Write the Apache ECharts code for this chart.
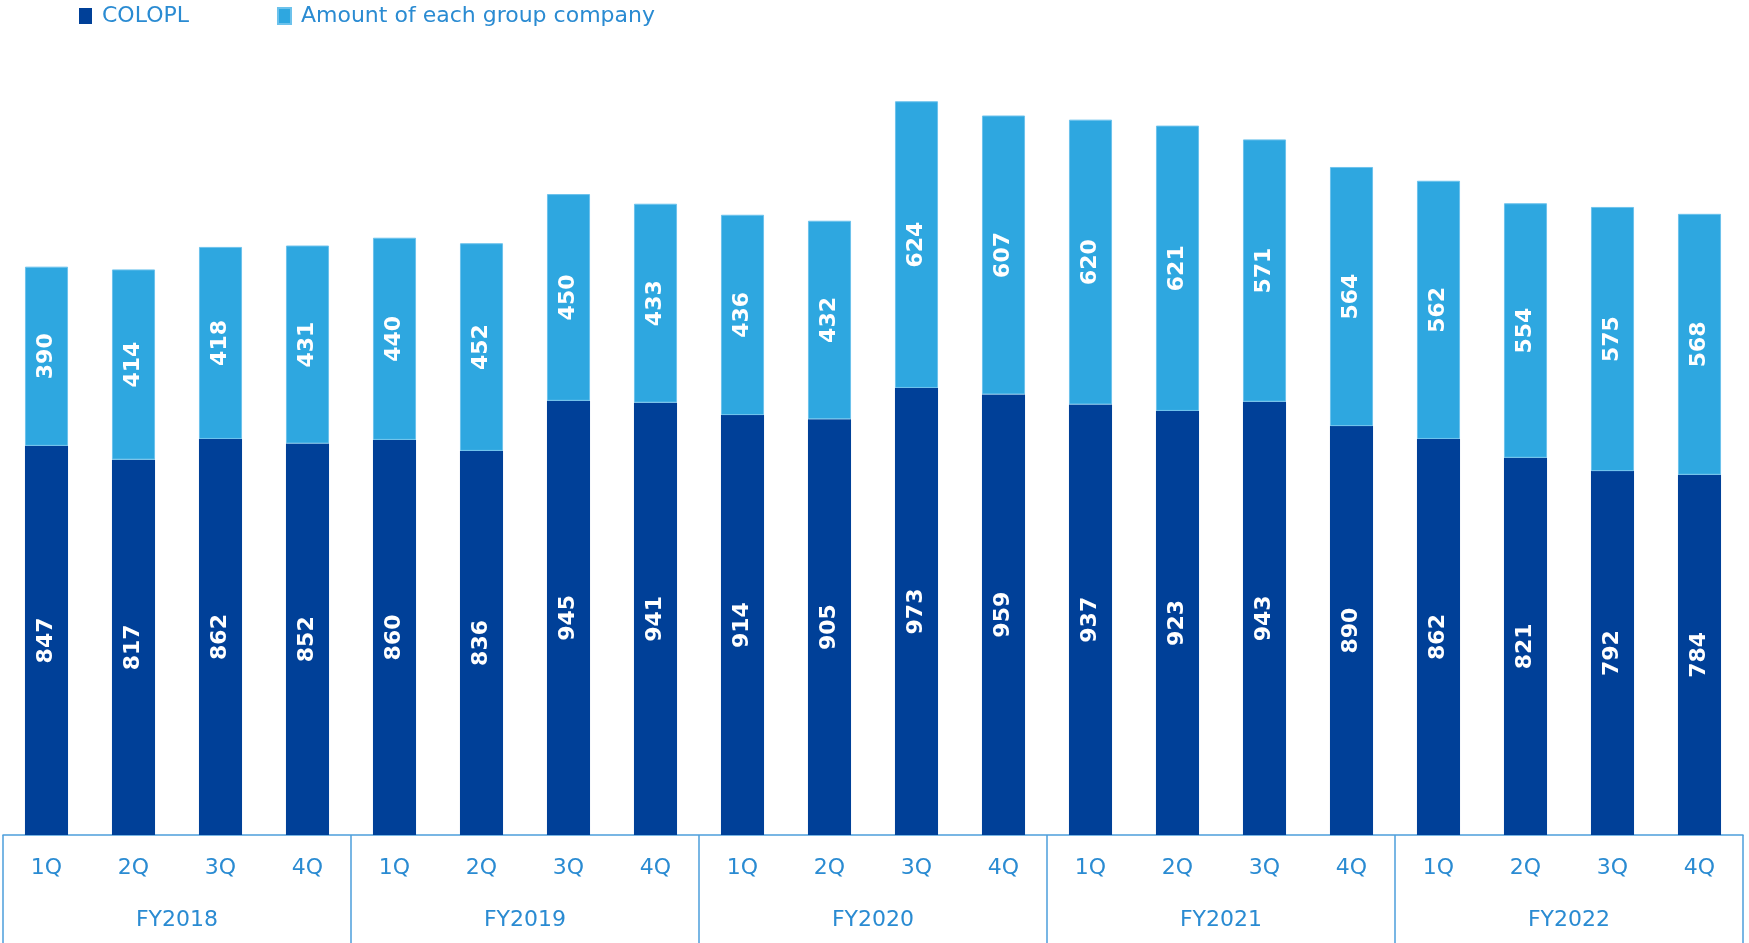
<!DOCTYPE html>
<html>
<head>
<meta charset="utf-8">
<title>COLOPL quarterly amounts</title>
<script src="https://cdn.jsdelivr.net/npm/echarts@6/dist/echarts.min.js"></script>
<style>
  html, body { margin: 0; padding: 0; background: #ffffff; }
  #chart { width: 1749px; height: 943px; }
</style>
</head>
<body>
<div id="chart"></div>
<script>
// Quarter labels (inner axis row) and fiscal years (outer axis row)
const quarters = [
  '1Q', '2Q', '3Q', '4Q',
  '1Q', '2Q', '3Q', '4Q',
  '1Q', '2Q', '3Q', '4Q',
  '1Q', '2Q', '3Q', '4Q',
  '1Q', '2Q', '3Q', '4Q'
];
const fiscalYears = ['FY2018', 'FY2019', 'FY2020', 'FY2021', 'FY2022'];

// COLOPL (non-consolidated) per quarter
const colopl = [
  847, 817, 862, 852,
  860, 836, 945, 941,
  914, 905, 973, 959,
  937, 923, 943, 890,
  862, 821, 792, 784
];

// Amount of each group company per quarter
const groupCompanies = [
  390, 414, 418, 431,
  440, 452, 450, 433,
  436, 432, 624, 607,
  620, 621, 571, 564,
  562, 554, 575, 568
];

const DARK = '#004098';
const LIGHT = '#2ea7e0';
const AXIS_BLUE = '#4c9fdb';
const TEXT_BLUE = '#2a8bd2';
const FONT = '"DejaVu Sans", Verdana, sans-serif';

const chart = echarts.init(document.getElementById('chart'), null, { renderer: 'canvas' });

const valueLabel = {
  show: true,
  position: 'inside',
  rotate: 90,
  color: '#ffffff',
  fontFamily: FONT,
  fontWeight: 'bold',
  fontSize: 22
};

chart.setOption({
  animation: false,
  backgroundColor: '#ffffff',
  legend: {
    left: 74,
    top: 0,
    icon: 'rect',
    itemWidth: 13,
    itemHeight: 16,
    itemGap: 88,
    textStyle: {
      color: TEXT_BLUE,
      fontFamily: FONT,
      fontSize: 22,
      padding: [0, 0, 0, 5]
    },
    data: ['COLOPL', 'Amount of each group company']
  },
  grid: {
    left: 3,
    right: 6,
    top: 8,
    bottom: 108,
    containLabel: false
  },
  xAxis: [
    {
      type: 'category',
      position: 'bottom',
      data: quarters,
      axisLine: { show: true, lineStyle: { color: AXIS_BLUE, width: 1.5 } },
      axisTick: { show: false },
      axisLabel: {
        interval: 0,
        margin: 22,
        color: TEXT_BLUE,
        fontFamily: FONT,
        fontSize: 22
      },
      splitLine: { show: false }
    },
    {
      type: 'category',
      position: 'bottom',
      data: fiscalYears,
      axisLine: { show: false },
      axisTick: {
        show: true,
        interval: 0,
        length: 110,
        lineStyle: { color: AXIS_BLUE, width: 1.5 }
      },
      axisLabel: {
        interval: 0,
        margin: 74,
        color: TEXT_BLUE,
        fontFamily: FONT,
        fontSize: 22
      },
      splitLine: { show: false }
    }
  ],
  yAxis: {
    type: 'value',
    min: 0,
    max: 1800,
    show: false,
    splitLine: { show: false }
  },
  series: [
    {
      name: 'COLOPL',
      type: 'bar',
      stack: 'total',
      xAxisIndex: 0,
      barWidth: '49.5%',
      itemStyle: { color: DARK },
      label: valueLabel,
      data: colopl
    },
    {
      name: 'Amount of each group company',
      type: 'bar',
      stack: 'total',
      xAxisIndex: 0,
      barWidth: '49.5%',
      itemStyle: { color: LIGHT, borderColor: '#6cc2ec', borderWidth: 1 },
      label: valueLabel,
      data: groupCompanies
    }
  ]
});
</script>
</body>
</html>
